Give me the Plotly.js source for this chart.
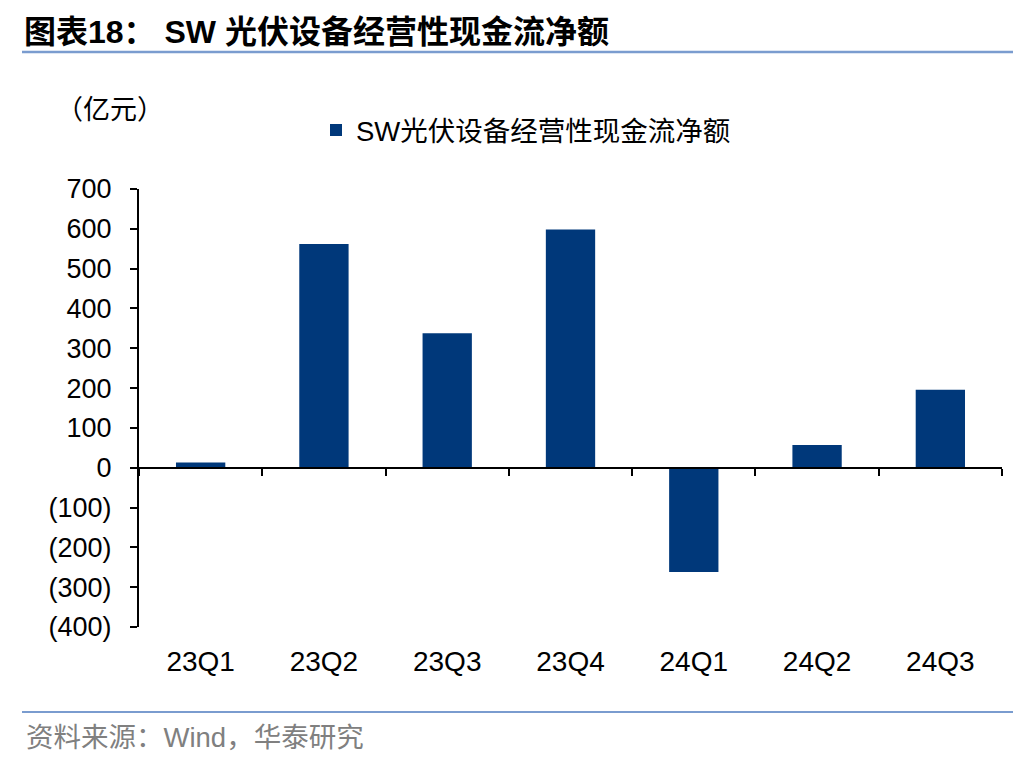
<!DOCTYPE html>
<html>
<head>
<meta charset="utf-8">
<script src="https://cdn.plot.ly/plotly-3.0.1.min.js"></script>
<style>html,body{margin:0;padding:0;background:#fff;}#chart{width:1036px;height:760px;}</style>
</head>
<body>
<div id="chart"></div>
<script>
var categories = ['23Q1','23Q2','23Q3','23Q4','24Q1','24Q2','24Q3'];
var values = [13, 562, 338, 598, -262, 57, 196];
var seriesName = 'SW光伏设备经营性现金流净额';
var yTickVals = [-400,-300,-200,-100,0,100,200,300,400,500,600,700];
var yTickText = ['(400)','(300)','(200)','(100)','0','100','200','300','400','500','600','700'];

var FONT = 'Liberation Sans, Arial, Noto Sans CJK SC, sans-serif';
var CJK = 'Noto Sans CJK SC, Liberation Sans, sans-serif';
var W = 1036, H = 760, L = 139, R = 34, T = 189, B = 133;
var pw = W - L - R, ph = H - T - B;
function px(x){ return (x - L) / pw; }
function py(y){ return (H - B - y) / ph; }
var yMin = -400, yMax = 700;

var data = [
  {type:'bar', x:categories, y:values, name:seriesName, marker:{color:'#00387a', line:{width:0}}, width:0.4, xaxis:'x', yaxis:'y', hoverinfo:'x+y'},
  {type:'scatter', mode:'none', x:categories, y:values, xaxis:'x2', yaxis:'y', showlegend:false, hoverinfo:'skip'}
];

var layout = {
  width: W, height: H,
  margin: {l:L, r:R, t:T, b:B, pad:0},
  paper_bgcolor:'#fff', plot_bgcolor:'#fff',
  font: {family: FONT, color:'#000', size:26},
  showlegend: true,
  title: {text:'<b>图表18： SW 光伏设备经营性现金流净额</b>', x: 24/W, xref:'container', xanchor:'left', y: 1-32/H, yref:'container', yanchor:'middle', font:{family: FONT, size:32, color:'#000'}},
  legend: {x: px(316), y: py(130), xanchor:'left', yanchor:'middle', orientation:'h', font:{family:FONT, size:27.5, color:'#000'}, bgcolor:'rgba(0,0,0,0)', itemclick:false},
  xaxis: {type:'category', range:[-0.5,6.5], showline:false, showgrid:false, zeroline:false, ticks:'outside', ticklen:9, tickcolor:'rgba(0,0,0,0)', tickfont:{family:FONT, size:28, color:'#000'}, fixedrange:true},
  xaxis2: {type:'category', overlaying:'x', anchor:'free', position: (0 - yMin)/(yMax - yMin), range:[-0.5,6.5], showline:true, linecolor:'#000', linewidth:2, ticks:'outside', tickson:'boundaries', ticklen:7, tickwidth:2, tickcolor:'#000', showticklabels:false, showgrid:false, zeroline:false, fixedrange:true},
  yaxis: {range:[yMin,yMax], tickvals:yTickVals, ticktext:yTickText, showline:true, linecolor:'#000', linewidth:2, ticks:'outside', ticklen:7, tickwidth:2, tickcolor:'#000', showgrid:false, zeroline:false, tickfont:{family:FONT, size:27, color:'#000'}, ticklabelstandoff:13, fixedrange:true},
  annotations: [
    {text:'（亿元）', xref:'paper', yref:'paper', x: px(54), y: py(108), xanchor:'left', yanchor:'middle', showarrow:false, font:{family:CJK, size:27, color:'#000'}},
    {text:'资料来源：Wind，华泰研究', xref:'paper', yref:'paper', x: px(24), y: py(737), xanchor:'left', yanchor:'middle', showarrow:false, font:{family:FONT, size:27.5, color:'#808080'}}
  ],
  shapes: [
    {type:'line', xref:'paper', yref:'paper', x0:px(22), x1:px(1013), y0:py(52), y1:py(52), line:{color:'#7a9ccf', width:2.5}},
    {type:'line', xref:'paper', yref:'paper', x0:px(22), x1:px(1013), y0:py(712), y1:py(712), line:{color:'#7a9ccf', width:2}}
  ]
};

Plotly.newPlot('chart', data, layout, {displayModeBar:false, staticPlot:true});
</script>
</body>
</html>
